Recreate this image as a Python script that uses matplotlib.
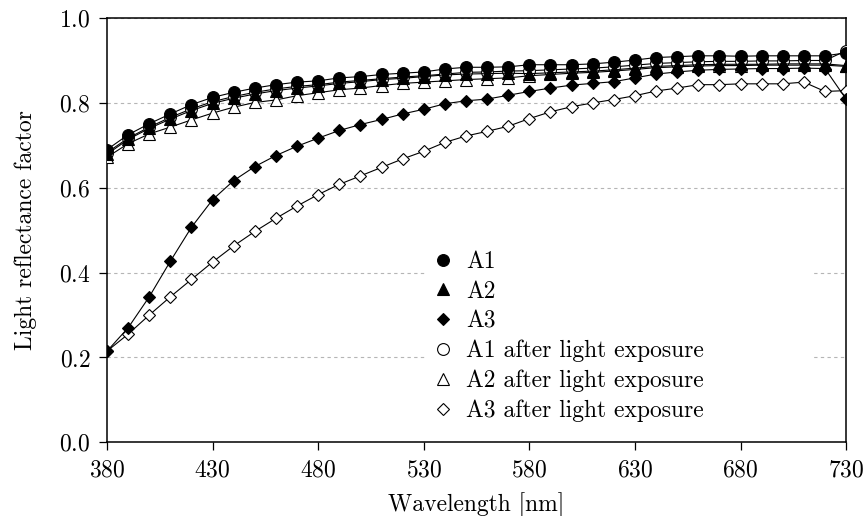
import matplotlib
matplotlib.use("Agg")
import matplotlib.pyplot as plt

plt.rcParams["font.family"] = "serif"
plt.rcParams["font.serif"] = ["cmr10"]
plt.rcParams["mathtext.fontset"] = "cm"
plt.rcParams["axes.formatter.use_mathtext"] = True

# longueurs d'onde (nm)
wl = [380, 390, 400, 410, 420, 430, 440, 450, 460, 470, 480, 490,
      500, 510, 520, 530, 540, 550, 560, 570, 580, 590, 600, 610,
      620, 630, 640, 650, 660, 670, 680, 690, 700, 710, 720, 730]

a1 = [0.690, 0.725, 0.751, 0.774, 0.796, 0.813, 0.825, 0.835, 0.843, 0.849, 0.852, 0.859,
      0.862, 0.867, 0.870, 0.873, 0.880, 0.884, 0.884, 0.885, 0.890, 0.890, 0.890, 0.892,
      0.896, 0.901, 0.907, 0.909, 0.911, 0.911, 0.910, 0.911, 0.911, 0.911, 0.911, 0.918]
a2 = [0.679, 0.714, 0.740, 0.762, 0.782, 0.799, 0.811, 0.821, 0.829, 0.835, 0.840, 0.846,
      0.850, 0.855, 0.858, 0.862, 0.866, 0.868, 0.869, 0.870, 0.869, 0.871, 0.873, 0.875,
      0.878, 0.882, 0.886, 0.888, 0.890, 0.891, 0.891, 0.891, 0.892, 0.892, 0.892, 0.888]
a3 = [0.215, 0.270, 0.343, 0.427, 0.507, 0.572, 0.617, 0.650, 0.676, 0.698, 0.717, 0.735,
      0.749, 0.761, 0.774, 0.785, 0.798, 0.805, 0.809, 0.818, 0.827, 0.835, 0.842, 0.846,
      0.850, 0.859, 0.868, 0.873, 0.877, 0.879, 0.880, 0.881, 0.881, 0.882, 0.881, 0.809]
a1_exp = [0.683, 0.717, 0.743, 0.766, 0.786, 0.803, 0.815, 0.825, 0.833, 0.839, 0.843, 0.849,
          0.853, 0.857, 0.861, 0.864, 0.868, 0.872, 0.873, 0.875, 0.876, 0.878, 0.880, 0.882,
          0.885, 0.889, 0.893, 0.895, 0.897, 0.898, 0.898, 0.899, 0.899, 0.900, 0.900, 0.923]
a2_exp = [0.672, 0.704, 0.727, 0.743, 0.760, 0.776, 0.790, 0.801, 0.807, 0.817, 0.824, 0.831,
          0.835, 0.841, 0.846, 0.849, 0.852, 0.855, 0.857, 0.859, 0.864, 0.867, 0.870, 0.872,
          0.875, 0.879, 0.883, 0.885, 0.887, 0.888, 0.888, 0.889, 0.889, 0.889, 0.889, 0.886]
a3_exp = [0.215, 0.255, 0.300, 0.343, 0.384, 0.425, 0.463, 0.497, 0.528, 0.557, 0.584, 0.608,
          0.628, 0.648, 0.668, 0.686, 0.707, 0.722, 0.733, 0.745, 0.763, 0.779, 0.791, 0.800,
          0.808, 0.817, 0.828, 0.835, 0.843, 0.843, 0.845, 0.845, 0.845, 0.849, 0.827, 0.829]

series = [
    (a1, "A1", "o", "black", 8.5, 4),
    (a2, "A2", "^", "black", 8, 4),
    (a3, "A3", "D", "black", 6.5, 4),
    (a1_exp, "A1 after light exposure", "o", "white", 8.5, 3),
    (a2_exp, "A2 after light exposure", "^", "white", 8, 3),
    (a3_exp, "A3 after light exposure", "D", "white", 6.5, 3),
]

fs = 17

fig = plt.figure(figsize=(8.66, 5.16), dpi=100)
ax = fig.add_axes([0.1236, 0.1428, 0.8534, 0.8222])

for y, lab, mk, fc, ms, z in series:
    ax.plot(wl, y, "-", color="black", lw=0.8, zorder=z)
    ax.plot(wl, y, linestyle="none", marker=mk, ms=ms, mfc=fc, mec="black",
            mew=0.8, label=lab, zorder=z)

ax.set_xlim(380, 730)
ax.set_ylim(0, 1)
ax.set_xticks([380, 430, 480, 530, 580, 630, 680, 730])
ax.set_yticks([0.0, 0.2, 0.4, 0.6, 0.8, 1.0])
ax.tick_params(direction="out", length=6, width=0.9, labelsize=fs, pad=6)
for s in ax.spines.values():
    s.set_linewidth(1.1)
ax.yaxis.grid(True, linestyle=(0, (3, 3)), color="#b5b5b5", lw=0.8)
ax.set_axisbelow(True)

ax.set_xlabel("Wavelength [nm]", fontsize=fs, labelpad=8)
ax.set_ylabel("Light reflectance factor", fontsize=fs, labelpad=16)

leg = ax.legend(loc="upper left", bbox_to_anchor=(0.43, 0.03, 0.525, 0.436),
                mode="expand", fontsize=fs, frameon=True, framealpha=1,
                edgecolor="none", facecolor="white", fancybox=False,
                handlelength=1.0, handletextpad=0.5, labelspacing=0.32,
                borderpad=0.26, borderaxespad=0, numpoints=1)
leg.set_zorder(5)

fig.savefig("out.png", dpi=100)
